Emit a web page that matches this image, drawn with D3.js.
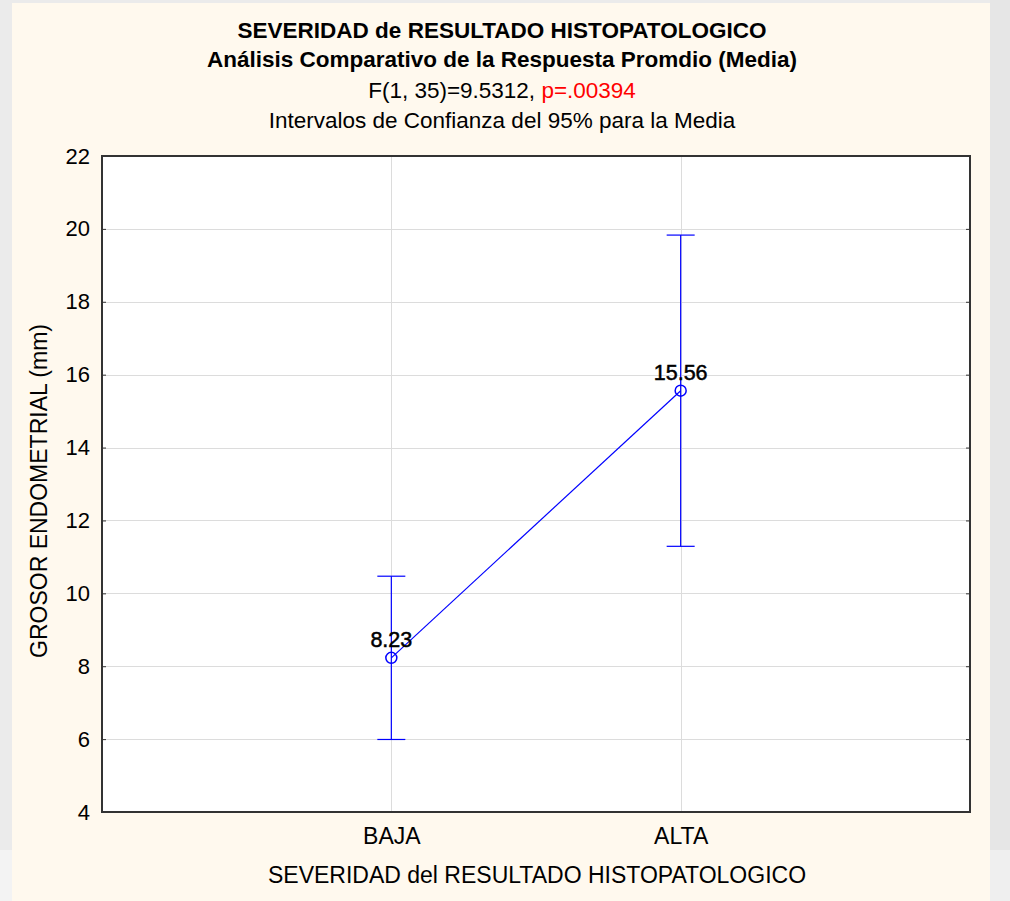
<!DOCTYPE html>
<html>
<head>
<meta charset="utf-8">
<script src="https://cdn.jsdelivr.net/npm/d3@7"></script>
<style>
  html, body { margin: 0; padding: 0; background: #ebebeb; }
  svg { display: block; font-family: Arial, "Liberation Sans", sans-serif; }
</style>
</head>
<body>
<svg id="chart" width="1010" height="901"></svg>
<script>
// Group means and 95% confidence limits
const categories = ["BAJA", "ALTA"];
const means = [8.23, 15.56];
const lowerCI = [5.99, 11.29];
const upperCI = [10.47, 19.83];
const yTicks = [4, 6, 8, 10, 12, 14, 16, 18, 20, 22];

const titleLines = [
  "SEVERIDAD de RESULTADO HISTOPATOLOGICO",
  "Análisis Comparativo de la Respuesta Promdio (Media)"
];
const statText = "F(1, 35)=9.5312, ";
const pText = "p=.00394";
const subTitle = "Intervalos de Confianza del 95% para la Media";
const xTitle = "SEVERIDAD del RESULTADO HISTOPATOLOGICO";
const yTitle = "GROSOR ENDOMETRIAL (mm)";

const svg = d3.select("#chart");
const W = 1010, H = 901;
const plot = { left: 102, right: 970, top: 156, bottom: 812 };

// page background and cream panel
svg.append("rect").attr("width", W).attr("height", H).attr("fill", "#ebebeb");
svg.append("rect").attr("x", 0).attr("y", 850).attr("width", 12).attr("height", 51).attr("fill", "#f3f3f3");
svg.append("rect").attr("x", 12).attr("y", 3).attr("width", 978).attr("height", H - 3).attr("fill", "#fff9ee");
svg.append("rect").attr("x", 990).attr("y", 0).attr("width", 20).attr("height", H).attr("fill", "#e6e6e6");
svg.append("rect").attr("x", 990).attr("y", 850).attr("width", 20).attr("height", 51).attr("fill", "#efefef");

// scales
const x = d3.scalePoint().domain(categories).range([plot.left, plot.right]).padding(1);
const y = d3.scaleLinear().domain([4, 22]).range([plot.bottom, plot.top]);

// plot area
svg.append("rect")
  .attr("x", plot.left).attr("y", plot.top)
  .attr("width", plot.right - plot.left).attr("height", plot.bottom - plot.top)
  .attr("fill", "#ffffff");

// grid
const grid = svg.append("g").attr("stroke", "#dcdcdc").attr("stroke-width", 1);
grid.selectAll("line.h").data(yTicks.slice(1, -1)).join("line")
  .attr("x1", plot.left).attr("x2", plot.right)
  .attr("y1", d => Math.round(y(d)) + 0.5).attr("y2", d => Math.round(y(d)) + 0.5);
grid.selectAll("line.v").data(categories).join("line")
  .attr("y1", plot.top).attr("y2", plot.bottom)
  .attr("x1", d => Math.round(x(d)) + 0.5).attr("x2", d => Math.round(x(d)) + 0.5);

// axes
const yAxis = d3.axisLeft(y).tickValues(yTicks).tickSize(-4).tickPadding(12);
const gy = svg.append("g").attr("transform", `translate(${plot.left},0)`).call(yAxis);
gy.select(".domain").remove();
gy.selectAll("text").attr("font-size", 22).attr("fill", "#000");
gy.selectAll("line").attr("stroke", "#333");

const yAxisR = d3.axisRight(y).tickValues(yTicks).tickSize(-4).tickFormat("");
const gyr = svg.append("g").attr("transform", `translate(${plot.right},0)`).call(yAxisR);
gyr.select(".domain").remove();
gyr.selectAll("line").attr("stroke", "#333");

const xAxis = d3.axisBottom(x).tickSize(0).tickPadding(16);
const gx = svg.append("g").attr("transform", `translate(0,${plot.bottom})`).call(xAxis);
gx.select(".domain").remove();
gx.selectAll("text").attr("font-size", 23).attr("fill", "#000");

// frame
svg.append("rect")
  .attr("x", plot.left).attr("y", plot.top)
  .attr("width", plot.right - plot.left).attr("height", plot.bottom - plot.top)
  .attr("fill", "none").attr("stroke", "#333").attr("stroke-width", 2);

// means line
const pts = categories.map((c, i) => ({ c, m: means[i], lo: lowerCI[i], hi: upperCI[i] }));
svg.append("path")
  .datum(pts)
  .attr("fill", "none").attr("stroke", "#0000ff").attr("stroke-width", 1.2)
  .attr("d", d3.line().x(d => x(d.c)).y(d => y(d.m)));

// confidence interval whiskers
const eb = svg.append("g").attr("stroke", "#0000ff").attr("stroke-width", 1.2);
eb.selectAll("line.v").data(pts).join("line")
  .attr("x1", d => x(d.c)).attr("x2", d => x(d.c))
  .attr("y1", d => y(d.lo)).attr("y2", d => y(d.hi));
eb.selectAll("line.t").data(pts).join("line")
  .attr("x1", d => x(d.c) - 14).attr("x2", d => x(d.c) + 14)
  .attr("y1", d => y(d.hi)).attr("y2", d => y(d.hi));
eb.selectAll("line.b").data(pts).join("line")
  .attr("x1", d => x(d.c) - 14).attr("x2", d => x(d.c) + 14)
  .attr("y1", d => y(d.lo)).attr("y2", d => y(d.lo));

// markers
svg.selectAll("circle.m").data(pts).join("circle")
  .attr("cx", d => x(d.c)).attr("cy", d => y(d.m)).attr("r", 5.5)
  .attr("fill", "none").attr("stroke", "#0000ff").attr("stroke-width", 1.5);

// value labels
svg.selectAll("text.val").data(pts).join("text")
  .attr("x", d => x(d.c)).attr("y", d => y(d.m) - 11)
  .attr("text-anchor", "middle").attr("font-size", 21.5)
  .attr("fill", "#000").attr("stroke", "#000").attr("stroke-width", 0.5)
  .text(d => d.m.toFixed(2));

// titles
const cx = 502;
svg.append("text").attr("x", cx).attr("y", 38).attr("text-anchor", "middle")
  .attr("font-size", 22.5).attr("font-weight", "bold").text(titleLines[0]);
svg.append("text").attr("x", cx).attr("y", 67).attr("text-anchor", "middle")
  .attr("font-size", 22.5).attr("font-weight", "bold").text(titleLines[1]);
const st = svg.append("text").attr("x", cx).attr("y", 98).attr("text-anchor", "middle").attr("font-size", 22.5);
st.append("tspan").attr("fill", "#000").text(statText);
st.append("tspan").attr("fill", "#ff0000").text(pText);
svg.append("text").attr("x", cx).attr("y", 128).attr("text-anchor", "middle")
  .attr("font-size", 22.5).text(subTitle);

// axis titles
svg.append("text").attr("x", 537).attr("y", 883).attr("text-anchor", "middle")
  .attr("font-size", 23).text(xTitle);
svg.append("text")
  .attr("transform", `translate(47,${(plot.top + plot.bottom) / 2 + 7}) rotate(-90)`)
  .attr("text-anchor", "middle").attr("font-size", 23).text(yTitle);
</script>
</body>
</html>
